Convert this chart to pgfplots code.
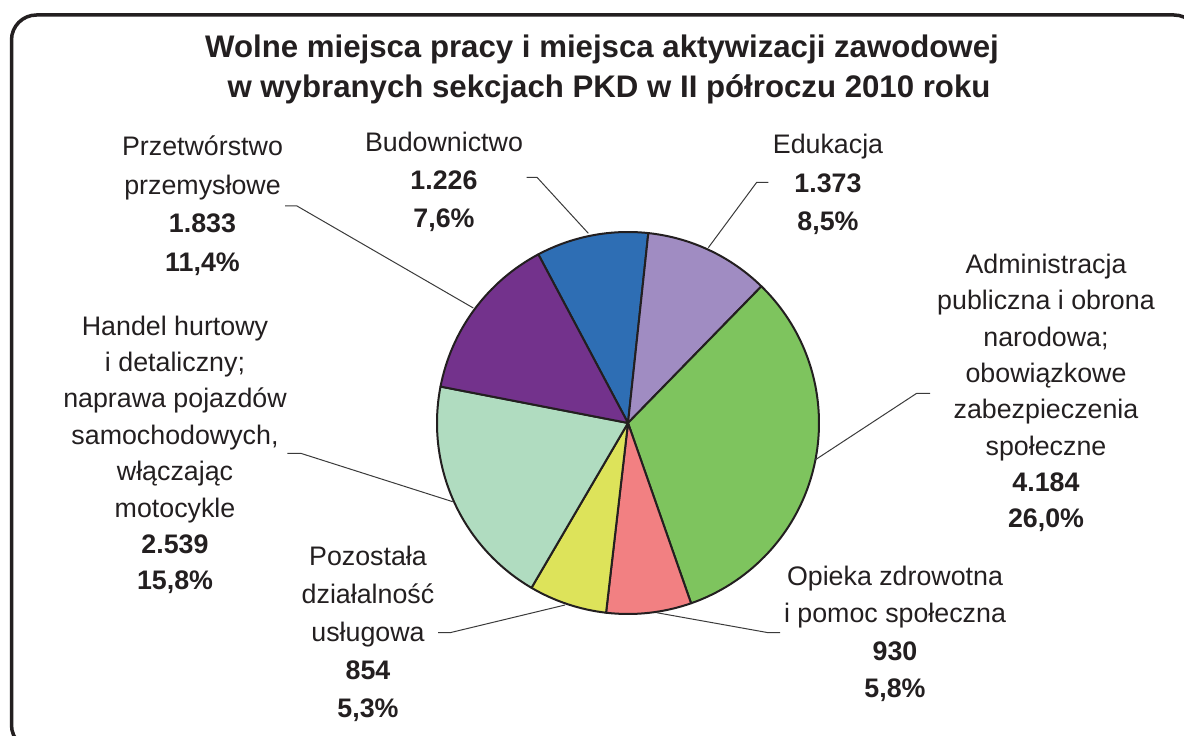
\documentclass[border=0pt]{standalone}
\usepackage{pgfplots}
\pgfplotsset{compat=1.18}
\usepackage{pgfplotstable}
\usepackage{fontspec}
\setmainfont{Liberation Sans}
\definecolor{txt}{HTML}{231F20}
\definecolor{cBud}{HTML}{2E6EB4}
\definecolor{cEdu}{HTML}{A08CC2}
\definecolor{cAdm}{HTML}{7EC45E}
\definecolor{cOpi}{HTML}{F28082}
\definecolor{cPoz}{HTML}{DDE35A}
\definecolor{cHan}{HTML}{B0DCC0}
\definecolor{cPrz}{HTML}{73328C}
\definecolor{leader}{HTML}{3A3A3A}
\newcommand\lf{\fontsize{13.4}{16}\selectfont}
\newcommand\lbline[3]{\node[anchor=base, text=txt, font=\lf, inner sep=0pt] at (axis cs:#1,{735-#2}) {#3};}
\newcommand\lbbold[3]{\node[anchor=base, text=txt, font=\lf\bfseries, inner sep=0pt] at (axis cs:#1,{735-#2}) {#3};}
\newcommand\pieslice[2]{%
  \filldraw[fill=#2, draw=txt, line width=1pt, line join=round]
    (axis cs:628,312) -- (axis cs:{628+191*cos(\csname sa#1\endcsname)},{312+191*sin(\csname sa#1\endcsname)})
    arc[start angle=\csname sa#1\endcsname, end angle=\csname ea#1\endcsname, radius=95.5pt] -- cycle;}
\pgfplotstableread{
key value
Bud 1226
Edu 1373
Adm 4184
Opi 930
Poz 854
Han 2539
Prz 1833
}\piedata
\def\total{0}%
\pgfplotsforeachungrouped \i in {0,...,6}{%
  \pgfplotstablegetelem{\i}{value}\of\piedata
  \pgfmathsetmacro\total{\total+\pgfplotsretval}}%
\def\cum{0}%
\pgfplotsforeachungrouped \i in {0,...,6}{%
  \pgfplotstablegetelem{\i}{value}\of\piedata
  \pgfmathsetmacro\sa{118-\cum/\total*360}%
  \pgfmathsetmacro\cum{\cum+\pgfplotsretval}%
  \pgfmathsetmacro\ea{118-\cum/\total*360}%
  \expandafter\let\csname sa\i\endcsname\sa
  \expandafter\let\csname ea\i\endcsname\ea}%
\begin{document}%
\begin{tikzpicture}
\begin{axis}[at={(0pt,0pt)}, anchor=south west, scale only axis,
  width=592pt, height=367.5pt, xmin=0, xmax=1184, ymin=0, ymax=735, hide axis,
  enlargelimits=false]
% frame
\draw[txt, line width=1.75pt, rounded corners=12.5pt] (axis cs:11.5,720) rectangle (axis cs:1199,-15);
% title
\node[anchor=base, text=txt, font=\fontsize{15.6}{18}\selectfont\bfseries, inner sep=0pt] at (axis cs:602,677) {Wolne miejsca pracy i miejsca aktywizacji zawodowej};
\node[anchor=base, text=txt, font=\fontsize{15.6}{18}\selectfont\bfseries, inner sep=0pt] at (axis cs:609,637) {w wybranych sekcjach PKD w II półroczu 2010 roku};
% pie
\pieslice{0}{cBud}
\pieslice{1}{cEdu}
\pieslice{2}{cAdm}
\pieslice{3}{cOpi}
\pieslice{4}{cPoz}
\pieslice{5}{cHan}
\pieslice{6}{cPrz}
% leader lines
\draw[leader, line width=0.5pt] (axis cs:285,{735-206}) -- (axis cs:297,{735-206}) -- (axis cs:473.3,{735-308});
\draw[leader, line width=0.5pt] (axis cs:526.7,{735-177.3}) -- (axis cs:537,{735-177.3}) -- (axis cs:588.3,{735-233.3});
\draw[leader, line width=0.5pt] (axis cs:768.3,{735-182.3}) -- (axis cs:756.7,{735-182.3}) -- (axis cs:708.3,{735-247.7});
\draw[leader, line width=0.5pt] (axis cs:815,{735-460}) -- (axis cs:916.7,{735-393.3}) -- (axis cs:930,{735-393.3});
\draw[leader, line width=0.5pt] (axis cs:287.3,{735-453.3}) -- (axis cs:300.7,{735-453.3}) -- (axis cs:452.7,{735-501.7});
\draw[leader, line width=0.5pt] (axis cs:438,{735-632.7}) -- (axis cs:450,{735-632.7}) -- (axis cs:565,{735-605});
\draw[leader, line width=0.5pt] (axis cs:656.7,{735-612.7}) -- (axis cs:768.3,{735-632.7}) -- (axis cs:780,{735-632.7});
% labels
\lbline{202.5}{156}{Przetwórstwo}
\lbline{202.5}{194.4}{przemysłowe}
\lbbold{202.5}{232.8}{1.833}
\lbbold{202.5}{271.2}{11,4\%}
\lbline{444}{152}{Budownictwo}
\lbbold{444}{189.8}{1.226}
\lbbold{444}{227.6}{7,6\%}
\lbline{828}{154}{Edukacja}
\lbbold{828}{192.5}{1.373}
\lbbold{828}{231}{8,5\%}
\lbline{1046}{273.7}{Administracja}
\lbline{1046}{310}{publiczna i obrona}
\lbline{1046}{346.3}{narodowa;}
\lbline{1046}{382.6}{obowiązkowe}
\lbline{1046}{418.9}{zabezpieczenia}
\lbline{1046}{455.2}{społeczne}
\lbbold{1046}{491.5}{4.184}
\lbbold{1046}{527.8}{26,0\%}
\lbline{175}{335}{Handel hurtowy}
\lbline{175}{371.4}{i detaliczny;}
\lbline{175}{407.8}{naprawa pojazdów}
\lbline{175}{444.2}{samochodowych,}
\lbline{175}{480.6}{włączając}
\lbline{175}{517}{motocykle}
\lbbold{175}{553.4}{2.539}
\lbbold{175}{589.8}{15,8\%}
\lbline{368}{565}{Pozostała}
\lbline{368}{603.1}{działalność}
\lbline{368}{641.2}{usługowa}
\lbbold{368}{679.3}{854}
\lbbold{368}{717.4}{5,3\%}
\lbline{895}{585}{Opieka zdrowotna}
\lbline{895}{622.5}{i pomoc społeczna}
\lbbold{895}{660}{930}
\lbbold{895}{697.5}{5,8\%}
\end{axis}
\pgfresetboundingbox
\useasboundingbox (0,0) rectangle (592pt,367.5pt);
\end{tikzpicture}%
\end{document}
